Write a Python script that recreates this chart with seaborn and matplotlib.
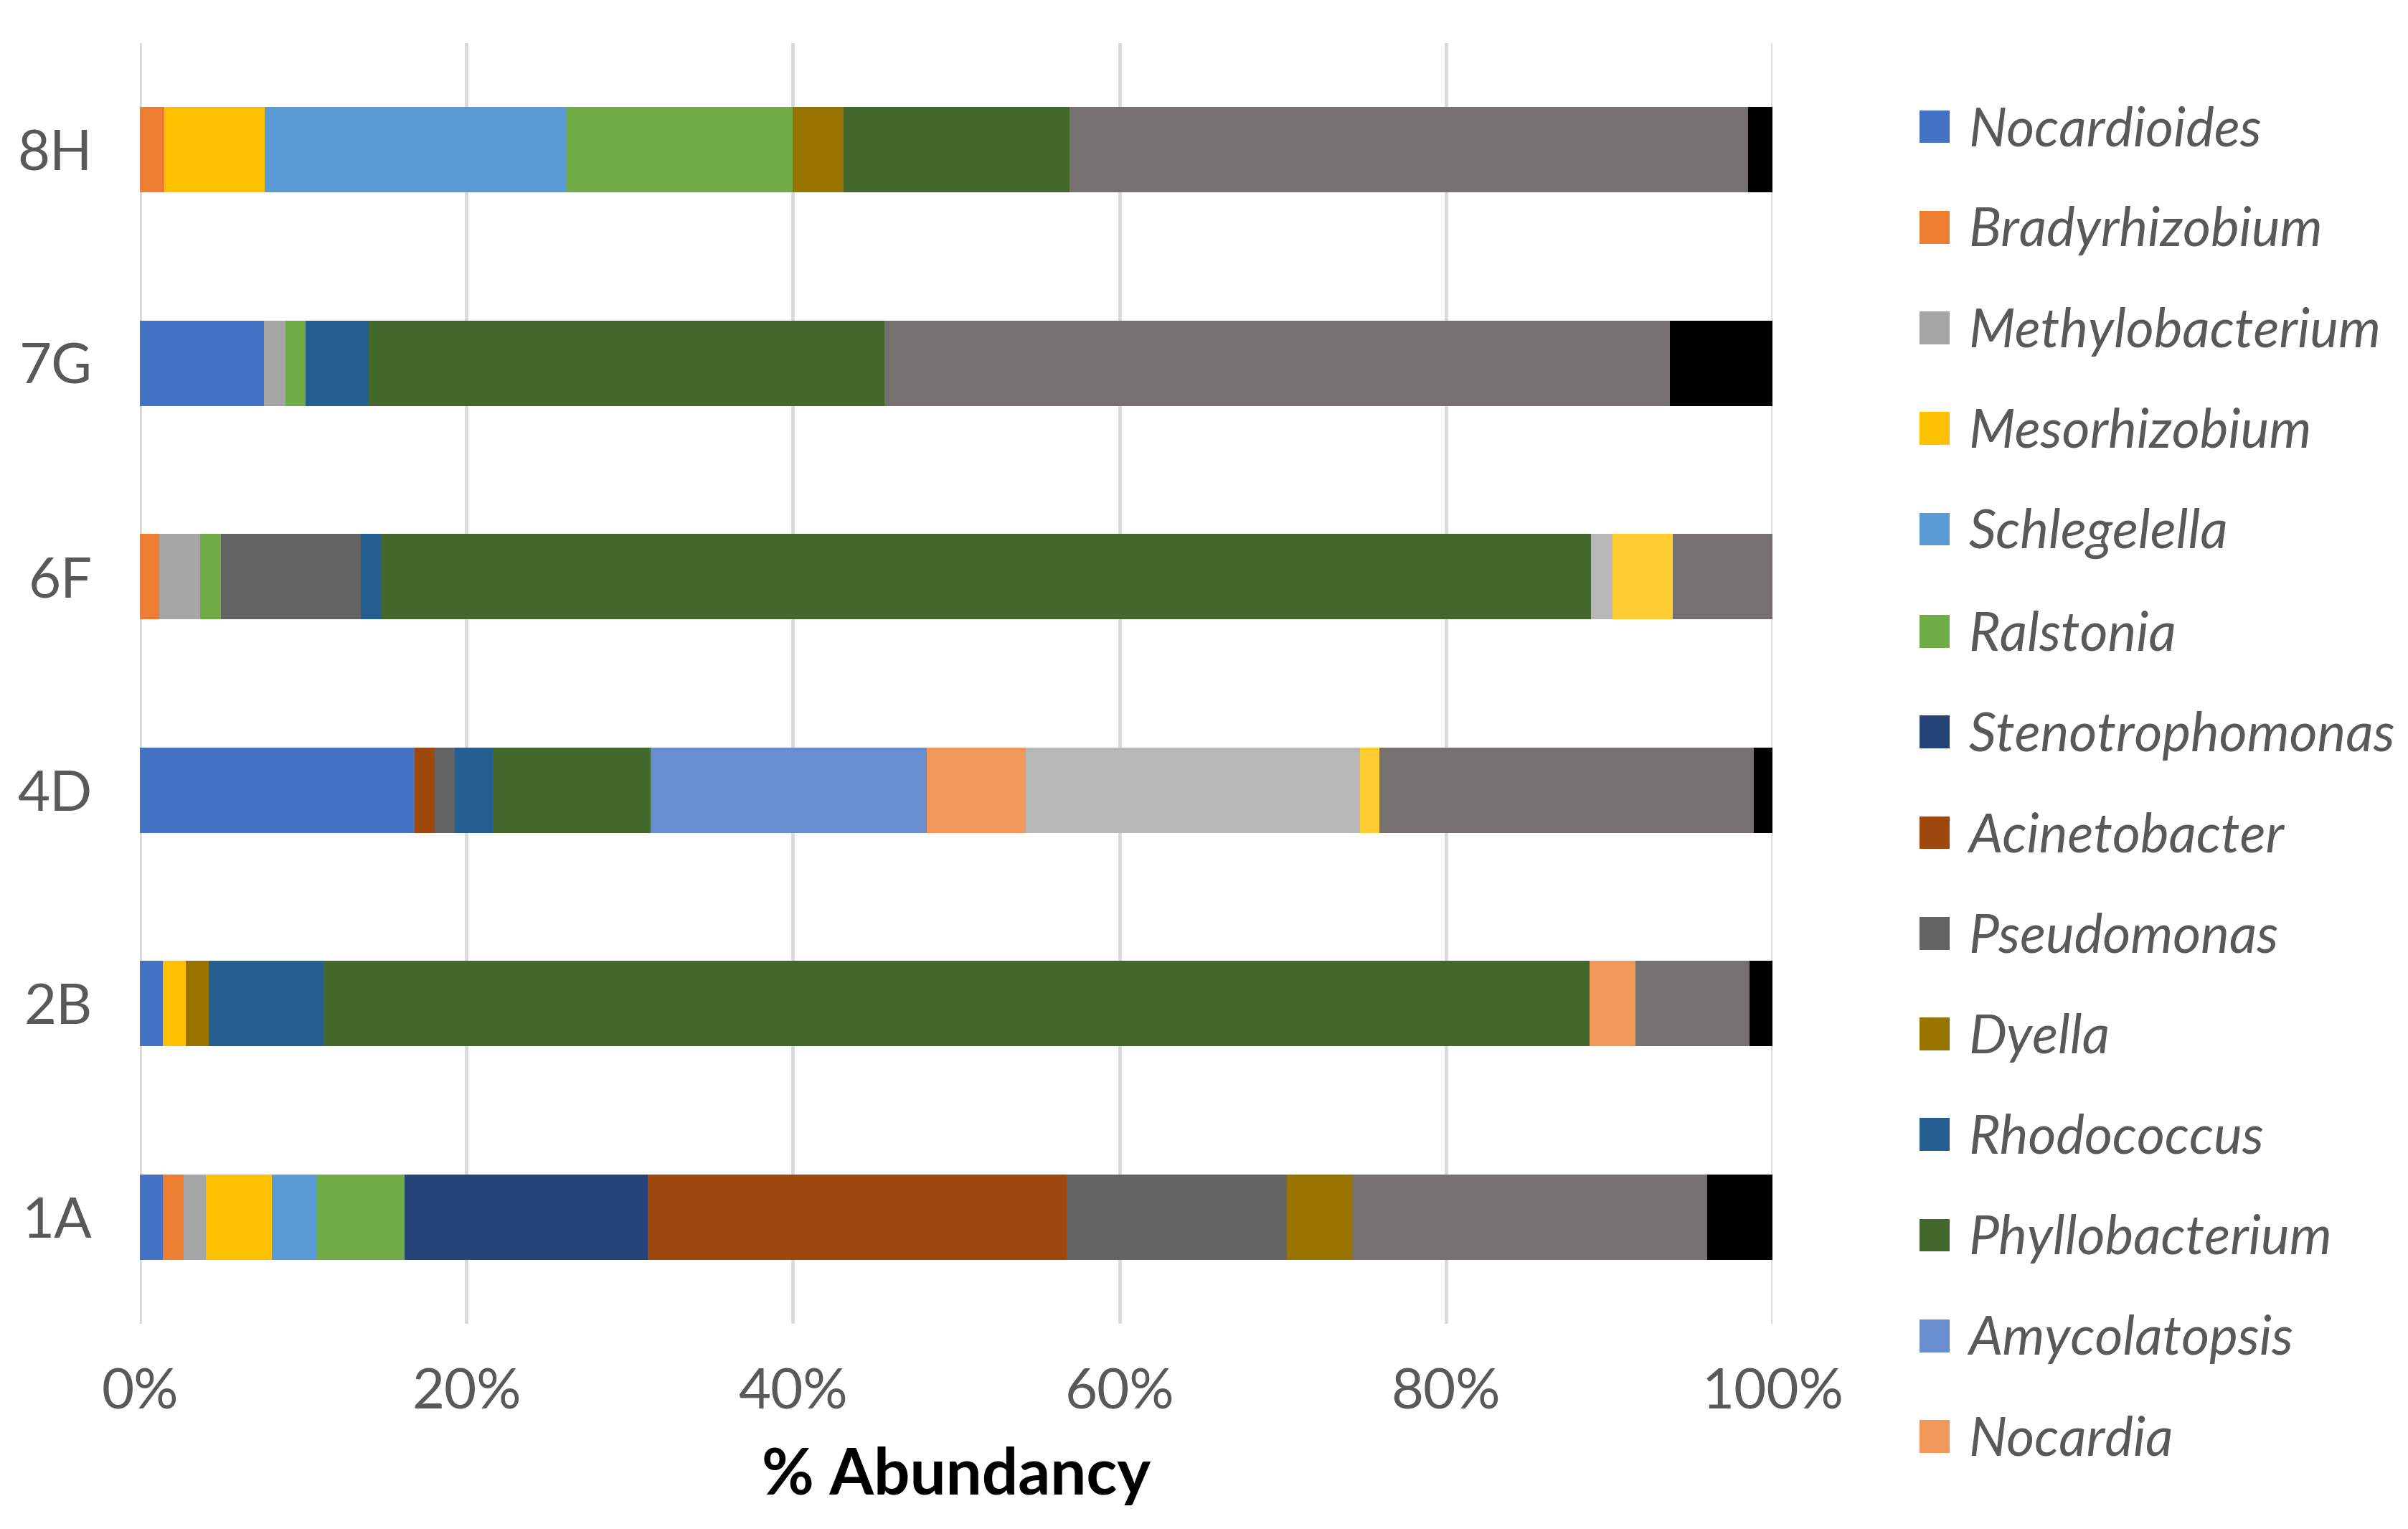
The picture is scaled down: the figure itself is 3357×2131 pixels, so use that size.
import pandas as pd
import seaborn as sns
import matplotlib.pyplot as plt
from matplotlib.patches import Patch

# samples, in the order they appear from top to bottom
samples = ["8H", "7G", "6F", "4D", "2B", "1A"]

# relative abundance (%) per genus, values given in order 1A, 2B, 4D, 6F, 7G, 8H
sample_cols = ["1A", "2B", "4D", "6F", "7G", "8H"]
genera = ["Nocardioides", "Bradyrhizobium", "Methylobacterium", "Mesorhizobium",
          "Schlegelella", "Ralstonia", "Stenotrophomonas", "Acinetobacter",
          "Pseudomonas", "Dyella", "Rhodococcus", "Phyllobacterium",
          "Amycolatopsis", "Nocardia", "Other genus A", "Other genus B",
          "Others", "Unassigned"]
nocardioides = [1.4, 1.4, 16.8, 0, 7.6, 0]
bradyrhizobium = [1.3, 0, 0, 1.2, 0, 1.5]
methylobacterium = [1.35, 0, 0, 2.5, 1.3, 0]
mesorhizobium = [4.05, 1.4, 0, 0, 0, 6.15]
schlegelella = [2.75, 0, 0, 0, 0, 18.5]
ralstonia = [5.35, 0, 0, 1.25, 1.25, 13.85]
stenotrophomonas = [14.9, 0, 0, 0, 0, 0]
acinetobacter = [25.7, 0, 1.25, 0, 0, 0]
pseudomonas = [13.5, 0, 1.2, 8.6, 0, 0]
dyella = [4.05, 1.4, 0, 0, 0, 3.1]
rhodococcus = [0, 7.05, 2.35, 1.25, 3.8, 0]
phyllobacterium = [0, 77.55, 9.65, 74.1, 31.65, 13.85]
amycolatopsis = [0, 0, 16.9, 0, 0, 0]
nocardia = [0, 2.8, 6.05, 0, 0, 0]
other_a = [0, 0, 20.45, 1.3, 0, 0]
other_b = [0, 0, 1.2, 3.7, 0, 0]
others = [21.7, 7.0, 22.9, 6.1, 48.1, 41.55]
unassigned = [4.0, 1.4, 1.15, 0, 6.3, 1.5]

colors = ["#4472C4", "#ED7D31", "#A5A5A5", "#FFC000", "#5B9BD5", "#70AD47",
          "#264478", "#9E480E", "#636363", "#997300", "#255E91", "#43682B",
          "#698ED0", "#F1975A", "#B7B7B7", "#FFCD33", "#757171", "#000000"]
n_legend = 14  # legend in the original is cut off after Nocardia

values = [nocardioides, bradyrhizobium, methylobacterium, mesorhizobium,
          schlegelella, ralstonia, stenotrophomonas, acinetobacter,
          pseudomonas, dyella, rhodococcus, phyllobacterium, amycolatopsis,
          nocardia, other_a, other_b, others, unassigned]

df = pd.DataFrame(values, index=genera, columns=sample_cols)
df = df / df.sum() * 100  # 100% stacked
cum = df.cumsum()

sns.set_style("white")
plt.rcParams["font.family"] = ["Lato", "DejaVu Sans"]

fig = plt.figure(figsize=(16.785, 10.655), dpi=200)
ax = fig.add_axes([0.0581, 0.1342, 0.678, 0.8376])

# draw longest cumulative first so shorter ones sit on top
for g, c in reversed(list(zip(genera, colors))):
    d = pd.DataFrame({"sample": sample_cols, "val": cum.loc[g].values})
    sns.barplot(data=d, x="val", y="sample", order=samples, orient="h",
                color=c, saturation=1, width=0.4, errorbar=None,
                linewidth=0, ax=ax)

ax.set_xlim(0, 100)
ax.set_xticks(range(0, 101, 20))
ax.set_xticklabels([f"{t}%" for t in range(0, 101, 20)])
ax.grid(axis="x", color="#D9D9D9", linewidth=1.7)
ax.grid(axis="y", visible=False)
ax.set_axisbelow(True)
for s in ax.spines.values():
    s.set_visible(False)
ax.tick_params(length=0, labelsize=28, colors="#595959")
ax.tick_params(axis="x", pad=22)
ax.tick_params(axis="y", pad=24)
ax.set_ylabel("")
ax.set_xlabel("% Abundancy", fontsize=32, fontweight="bold", color="black",
              labelpad=14)

handles = [Patch(facecolor=c, edgecolor="none") for c in colors[:n_legend]]
leg = fig.legend(handles, genera[:n_legend], loc="upper left",
                 bbox_to_anchor=(0.797, 0.931), frameon=False,
                 fontsize=27, handlelength=0.56, handleheight=0.56,
                 handletextpad=0.36, labelspacing=0.95, borderpad=0,
                 borderaxespad=0)
for t in leg.get_texts():
    t.set_color("#595959")
    t.set_style("italic")

plt.savefig("out.png", dpi=200)
